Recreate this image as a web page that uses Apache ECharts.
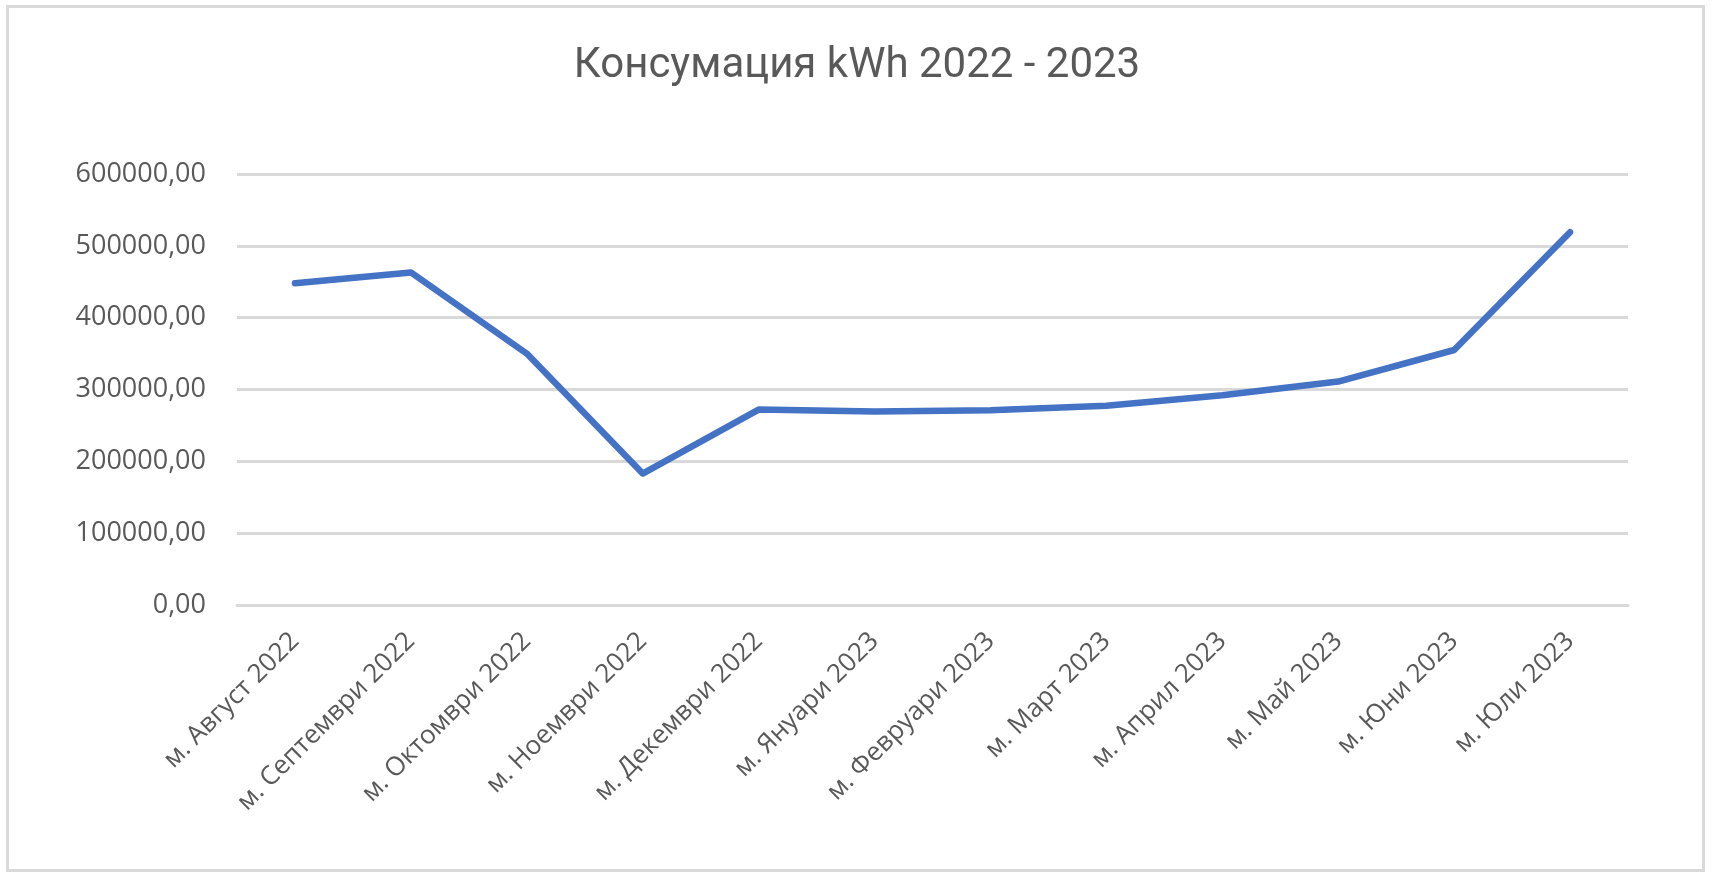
<!DOCTYPE html>
<html>
<head>
<meta charset="utf-8">
<script src="https://cdn.jsdelivr.net/npm/echarts@6/dist/echarts.min.js"></script>
<style>
html,body{margin:0;padding:0;background:#fff;}
#chart{width:1714px;height:882px;}
</style>
</head>
<body>
<div id="chart"></div>
<script>
const titleText = "Консумация kWh 2022 - 2023";
const categories = ["м. Август 2022", "м. Септември 2022", "м. Октомври 2022", "м. Ноември 2022", "м. Декември 2022", "м. Януари 2023", "м. Февруари 2023", "м. Март 2023", "м. Април 2023", "м. Май 2023", "м. Юни 2023", "м. Юли 2023"];
const consumption = [448000, 463000, 350000, 183000, 272000, 269500, 271000, 277500, 292000, 311000, 355000, 519000];
const yMin = 0, yMax = 600000, yStep = 100000;

const chart = echarts.init(document.getElementById('chart'), null, {renderer: 'canvas'});
chart.setOption({
  backgroundColor: '#ffffff',
  animation: false,
  title: {
    text: titleText,
    left: 'center',
    top: 40,
    textStyle: {
      fontFamily: 'Roboto',
      fontSize: 42,
      fontWeight: 'normal',
      color: '#595959'
    }
  },
  graphic: [{
    type: 'rect',
    shape: {x: 7.5, y: 6.5, width: 1696, height: 864},
    style: {fill: 'none', stroke: '#d9d9d9', lineWidth: 3},
    silent: true,
    z: -1
  }],
  grid: {left: 237, right: 86, top: 174, bottom: 277, containLabel: false},
  xAxis: {
    type: 'category',
    data: categories,
    boundaryGap: true,
    axisLine: {show: true, lineStyle: {color: '#d9d9d9', width: 3}},
    axisTick: {show: false},
    axisLabel: {
      rotate: 45,
      margin: 32,
      interval: 0,
      fontFamily: 'Open Sans',
      fontSize: 26,
      color: '#595959'
    }
  },
  yAxis: {
    type: 'value',
    min: yMin,
    max: yMax,
    interval: yStep,
    axisLine: {show: false},
    axisTick: {show: false},
    splitLine: {lineStyle: {color: '#d9d9d9', width: 3}},
    axisLabel: {
      margin: 31,
      fontFamily: 'Open Sans',
      fontSize: 27,
      color: '#595959',
      formatter: v => v.toFixed(2).replace('.', ',')
    }
  },
  series: [{
    type: 'line',
    data: consumption,
    symbol: 'none',
    lineStyle: {color: '#4472c4', width: 6.5, cap: 'round', join: 'round'},
    itemStyle: {color: '#4472c4'}
  }]
});
</script>
</body>
</html>
